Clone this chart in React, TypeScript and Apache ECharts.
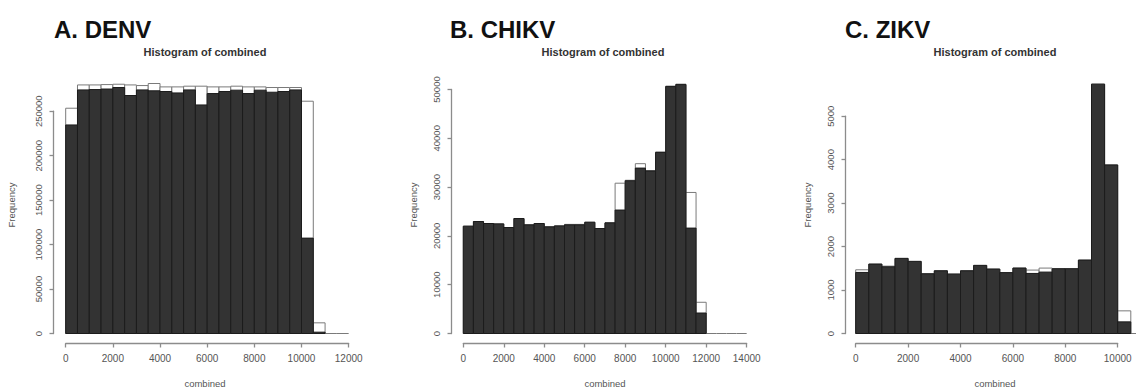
import React, { useEffect, useRef } from "react";
import * as echarts from "echarts";

// ---------- DATA ----------
const BIN_WIDTH = 500;

const binStartsA = [0, 500, 1000, 1500, 2000, 2500, 3000, 3500, 4000, 4500, 5000, 5500, 6000, 6500, 7000, 7500, 8000, 8500, 9000, 9500, 10000, 10500, 11000, 11500];
const totalA = [253400, 279600, 279600, 280000, 280400, 279600, 278900, 281200, 277400, 277400, 278200, 278200, 277400, 277400, 278200, 277400, 277400, 276700, 276700, 276700, 261300, 12000, 0, 0];
const subsetA = [234600, 274000, 274400, 275000, 276700, 267700, 274000, 273000, 272200, 270600, 274000, 257100, 269900, 272200, 273700, 269900, 273700, 271400, 272200, 274000, 107300, 1500, 0, 0];

const binStartsB = [0, 500, 1000, 1500, 2000, 2500, 3000, 3500, 4000, 4500, 5000, 5500, 6000, 6500, 7000, 7500, 8000, 8500, 9000, 9500, 10000, 10500, 11000, 11500, 12000, 12500, 13000, 13500];
const totalB = [21990, 22950, 22540, 22460, 21720, 23560, 22260, 22540, 21850, 22050, 22360, 22360, 22800, 21510, 22670, 30800, 31400, 34800, 33400, 37200, 50700, 51100, 28900, 6400, 0, 0, 0, 0];
const subsetB = [21990, 22950, 22540, 22460, 21720, 23560, 22260, 22540, 21850, 22050, 22260, 22260, 22800, 21510, 22670, 25300, 31300, 33900, 33300, 37100, 50600, 51000, 21600, 4200, 0, 0, 0, 0];

const binStartsC = [0, 500, 1000, 1500, 2000, 2500, 3000, 3500, 4000, 4500, 5000, 5500, 6000, 6500, 7000, 7500, 8000, 8500, 9000, 9500, 10000, 10500];
const totalC = [1466, 1597, 1550, 1728, 1659, 1374, 1443, 1367, 1443, 1567, 1482, 1400, 1505, 1459, 1505, 1490, 1490, 1689, 5737, 3878, 521, 0];
const subsetC = [1405, 1597, 1535, 1728, 1659, 1374, 1443, 1367, 1443, 1567, 1482, 1400, 1505, 1382, 1413, 1490, 1490, 1689, 5737, 3878, 268, 0];

const panelTitles = ["A. DENV", "B. CHIKV", "C. ZIKV"];
const plotTitle = "Histogram of combined";
const xName = "combined";
const yName = "Frequency";

// ---------- LAYOUT ----------
const W = 1136;
const H = 388;
const ZERO_Y = 333.5;
const X_AXIS_Y = 343.5;
const FONT = "'Liberation Sans', Arial, Helvetica, sans-serif";
const AXIS_COLOR = "#8c8c8c";

const panels = [
  {
    starts: binStartsA, total: totalA, subset: subsetA,
    x0: 65.7, pxPer1000: 23.58, xDataMax: 12000, xTickMax: 12000, xInterval: 2000,
    pxPerUnitY: 44.45 / 50000, yDataMax: 300000, yTickMax: 250000, yInterval: 50000,
    yAxisX: 53.5, yLabelName: 11.5, titleX: 54, subTitleX: 205, xNameX: 205,
  },
  {
    starts: binStartsB, total: totalB, subset: subsetB,
    x0: 463.3, pxPer1000: 20.24, xDataMax: 14000, xTickMax: 14000, xInterval: 2000,
    pxPerUnitY: 48.8 / 10000, yDataMax: 55000, yTickMax: 50000, yInterval: 10000,
    yAxisX: 451.5, yLabelName: 413, titleX: 450, subTitleX: 603, xNameX: 605,
  },
  {
    starts: binStartsC, total: totalC, subset: subsetC,
    x0: 855.7, pxPer1000: 26.2, xDataMax: 11000, xTickMax: 10000, xInterval: 2000,
    pxPerUnitY: 43.46 / 1000, yDataMax: 6000, yTickMax: 5000, yInterval: 1000,
    yAxisX: 845.5, yLabelName: 807, titleX: 845, subTitleX: 995, xNameX: 995,
  },
];

function histRender(fill: string, stroke: string, drawZero: boolean) {
  return (params: any, api: any) => {
    const a = api.value(0);
    const b = api.value(1);
    const v = api.value(2);
    const pTop = api.coord([a, v]);
    const pBot = api.coord([b, 0]);
    if (v === 0) {
      if (!drawZero) return null;
      return {
        type: "line",
        shape: { x1: pTop[0], y1: pBot[1], x2: pBot[0], y2: pBot[1] },
        style: { stroke, lineWidth: 1 },
      };
    }
    return {
      type: "rect",
      shape: { x: pTop[0], y: pTop[1], width: pBot[0] - pTop[0], height: pBot[1] - pTop[1] },
      style: { fill, stroke, lineWidth: 1 },
    };
  };
}

const plain = (v: number) => String(v);

function buildOption() {
  const grid: any[] = [];
  const xAxis: any[] = [];
  const yAxis: any[] = [];
  const series: any[] = [];
  const graphic: any[] = [];

  panels.forEach((p, i) => {
    const dataRight = p.x0 + (p.xDataMax / 1000) * p.pxPer1000;
    const dataTop = ZERO_Y - p.yDataMax * p.pxPerUnitY;
    const tickRight = p.x0 + (p.xTickMax / 1000) * p.pxPer1000;

    // data grid (bars)
    const gData = grid.length;
    grid.push({
      left: p.x0, top: dataTop, width: dataRight - p.x0, height: ZERO_Y - dataTop,
      containLabel: false, outerBoundsMode: "none",
    });
    const xData = xAxis.length;
    xAxis.push({ gridIndex: gData, type: "value", min: 0, max: p.xDataMax, show: false });
    const yData = yAxis.length;
    yAxis.push({ gridIndex: gData, type: "value", min: 0, max: p.yDataMax, show: false });

    // R-style x axis: spans 0..xTickMax, drawn below the plot
    const gX = grid.length;
    grid.push({
      left: p.x0, top: X_AXIS_Y - 20, width: tickRight - p.x0, height: 20,
      containLabel: false, outerBoundsMode: "none",
    });
    xAxis.push({
      gridIndex: gX, type: "value", min: 0, max: p.xTickMax, interval: p.xInterval,
      position: "bottom", show: true, z: 10,
      axisLine: { show: true, onZero: false, lineStyle: { color: AXIS_COLOR, width: 1.3 } },
      axisTick: { show: true, inside: false, length: 4, lineStyle: { color: AXIS_COLOR, width: 1.3 } },
      axisLabel: { show: true, color: "#555", fontSize: 10, fontFamily: FONT, margin: 10, formatter: plain },
      splitLine: { show: false },
    });
    yAxis.push({ gridIndex: gX, type: "value", show: false });

    // R-style y axis: spans 0..yTickMax, drawn left of the plot
    const gY = grid.length;
    const yTopPx = ZERO_Y - p.yTickMax * p.pxPerUnitY;
    grid.push({
      left: p.yAxisX, top: yTopPx, width: 20, height: ZERO_Y - yTopPx,
      containLabel: false, outerBoundsMode: "none",
    });
    xAxis.push({ gridIndex: gY, type: "value", show: false });
    yAxis.push({
      gridIndex: gY, type: "value", min: 0, max: p.yTickMax, interval: p.yInterval,
      position: "left", show: true, z: 10,
      axisLine: { show: true, onZero: false, lineStyle: { color: AXIS_COLOR, width: 1.3 } },
      axisTick: { show: true, inside: false, length: 4, lineStyle: { color: AXIS_COLOR, width: 1.3 } },
      axisLabel: { show: true, color: "#555", fontSize: 9.5, fontFamily: FONT, rotate: 90, margin: 10, formatter: plain },
      splitLine: { show: false },
    });

    const totalData = p.starts.map((s, k) => [s, s + BIN_WIDTH, p.total[k]]);
    const subsetData = p.starts.map((s, k) => [s, s + BIN_WIDTH, p.subset[k]]);
    series.push({
      type: "custom", name: "total", xAxisIndex: xData, yAxisIndex: yData,
      renderItem: histRender("#ffffff", "#7a7a7a", true), data: totalData, z: 2,
    });
    series.push({
      type: "custom", name: "subset", xAxisIndex: xData, yAxisIndex: yData,
      renderItem: histRender("#333333", "#1c1c1c", false), data: subsetData, z: 3,
    });

    graphic.push({
      type: "text", x: p.titleX, y: 29,
      style: { text: panelTitles[i], fill: "#111", font: `bold 24px ${FONT}`, align: "left", verticalAlign: "middle" },
    });
    graphic.push({
      type: "text", x: p.subTitleX, y: 52,
      style: { text: plotTitle, fill: "#333", font: `bold 11px ${FONT}`, align: "center", verticalAlign: "middle" },
    });
    graphic.push({
      type: "text", x: p.xNameX, y: 383,
      style: { text: xName, fill: "#555", font: `9.5px ${FONT}`, align: "center", verticalAlign: "middle" },
    });
    graphic.push({
      type: "text", x: p.yLabelName, y: 205, rotation: Math.PI / 2,
      style: { text: yName, fill: "#555", font: `9.5px ${FONT}`, align: "center", verticalAlign: "middle" },
    });
  });

  return { animation: false, backgroundColor: "#ffffff", grid, xAxis, yAxis, series, graphic };
}

export default function App() {
  const ref = useRef<HTMLDivElement>(null);
  useEffect(() => {
    if (!ref.current) return;
    const chart = echarts.init(ref.current, undefined, { renderer: "svg" });
    chart.setOption(buildOption() as any);
    return () => chart.dispose();
  }, []);
  return (
    <div
      ref={ref}
      style={{ position: "fixed", left: 0, top: 0, width: W, height: H, background: "#fff" }}
    />
  );
}
